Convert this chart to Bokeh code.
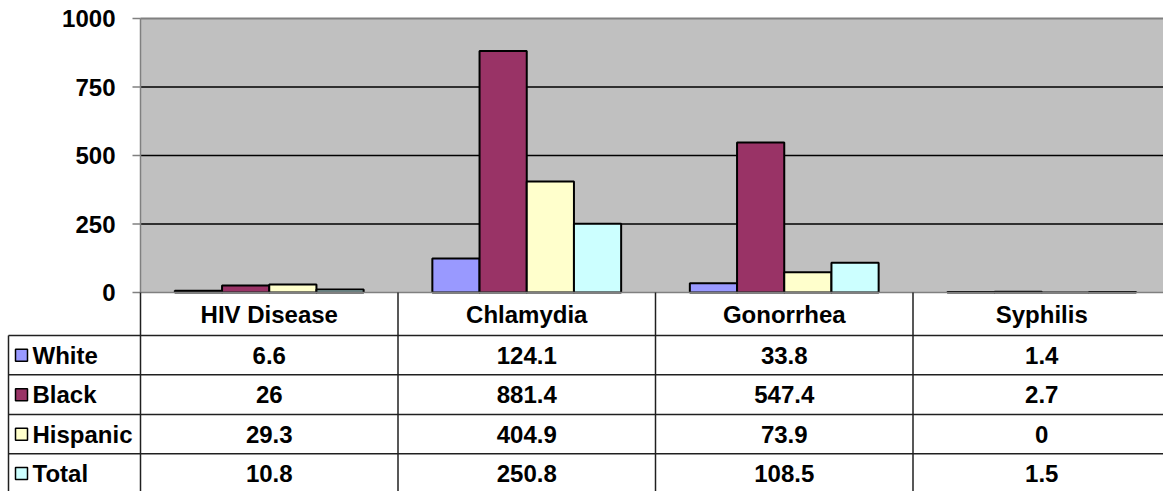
from bokeh.plotting import figure
from bokeh.models import Range1d
from bokeh.embed import file_html
from bokeh.resources import INLINE
from bokeh.core.properties import value

# ---------------- data ----------------
categories = ["HIV Disease", "Chlamydia", "Gonorrhea", "Syphilis"]
series = ["White", "Black", "Hispanic", "Total"]
white = [6.6, 124.1, 33.8, 1.4]
black = [26, 881.4, 547.4, 2.7]
hispanic = [29.3, 404.9, 73.9, 0]
total = [10.8, 250.8, 108.5, 1.5]
y_ticks = [0, 250, 500, 750, 1000]

colors = ["#9999FF", "#993366", "#FFFFCC", "#CCFFFF"]
values = [white, black, hispanic, total]

# ---------------- layout (page pixels) ----------------
W, H = 1163, 491
OFF = 0
plot_left = 140 - OFF        # left edge of plot area in figure px
cat_px = 257.5               # width of one category in px
y0_px = 292 - OFF            # y of value 0 in figure px (from top)
px_per_unit = 0.274          # px per value unit

xs = -plot_left / cat_px
xe = (W - plot_left) / cat_px
ys = -(H - y0_px) / px_per_unit
ye = y0_px / px_per_unit

FONT = value("Liberation Sans")

p = figure(width=W, height=H, output_backend="svg", toolbar_location=None,
           x_range=Range1d(xs, xe), y_range=Range1d(ys, ye),
           min_border=0, min_border_left=0, min_border_right=0,
           min_border_top=0, min_border_bottom=0)
p.axis.visible = False
p.grid.visible = False
p.outline_line_color = None
p.background_fill_color = "white"
p.border_fill_color = "white"
p.extra_x_ranges = {"px": Range1d(0, W)}
p.extra_y_ranges = {"py": Range1d(H, 0)}

ncat = len(categories)
ymax = y_ticks[-1]

# plot area background
p.quad(left=[0], right=[ncat], bottom=[0], top=[ymax],
       fill_color="#C0C0C0", line_color=None)

# gridlines
for t in y_ticks[1:-1]:
    p.segment(x0=[0], y0=[t], x1=[ncat], y1=[t], line_color="black", line_width=1.3)
p.segment(x0=[0], y0=[ymax], x1=[ncat], y1=[ymax], line_color="#808080", line_width=2)

# bars
bw = 47.2 / cat_px
for k, (vals, col) in enumerate(zip(values, colors)):
    xc = [i + 0.5 + (k - 1.5) * bw for i in range(ncat)]
    p.vbar(x=xc, top=vals, bottom=0, width=bw, fill_color=col,
           line_color="black", line_width=2)

# axis lines
p.segment(x0=[0], y0=[0], x1=[ncat], y1=[0], line_color="#808080", line_width=1.5)
p.segment(x0=[0], y0=[0], x1=[0], y1=[ymax], line_color="#808080", line_width=1.5)
# tick marks
tk = 8 / cat_px
p.segment(x0=[-tk] * len(y_ticks), y0=y_ticks, x1=[0] * len(y_ticks), y1=y_ticks,
          line_color="#808080", line_width=1.5)
# y tick labels
p.text(x=[115 - OFF] * len(y_ticks), y=y_ticks, text=[str(t) for t in y_ticks],
       x_range_name="px", text_font=FONT, text_font_style="bold",
       text_font_size="24px", text_align="right", text_baseline="middle",
       text_color="black")

# ---------------- data table ----------------
row_edges = [292 - OFF, 335 - OFF, 374.3 - OFF, 414 - OFF, 453.3 - OFF, 492.6 - OFF]
tbl_line = "#202020"
# horizontal lines (rows below the header)
for yy in row_edges[1:-1]:
    p.segment(x0=[8 - OFF], y0=[yy], x1=[W], y1=[yy], x_range_name="px",
              y_range_name="py", line_color=tbl_line, line_width=1.5)
# vertical lines: left border of row labels
p.segment(x0=[8 - OFF], y0=[row_edges[1]], x1=[8 - OFF], y1=[H], x_range_name="px",
          y_range_name="py", line_color=tbl_line, line_width=1.5)
# column separators (category boundaries)
for c in range(ncat + 1):
    p.segment(x0=[c], y0=[row_edges[0]], x1=[c], y1=[H], y_range_name="py",
              line_color=tbl_line, line_width=1.5)

# header
hdr_y = (row_edges[0] + row_edges[1]) / 2
p.text(x=[i + 0.5 for i in range(ncat)], y=[hdr_y] * ncat, text=categories,
       y_range_name="py", text_font=FONT, text_font_style="bold",
       text_font_size="24px", text_align="center", text_baseline="middle",
       text_color="black")

def fmt(v):
    return f"{v:g}"

for r, (name, vals, col) in enumerate(zip(series, values, colors)):
    cy = (row_edges[r + 1] + row_edges[r + 2]) / 2
    # legend key
    p.rect(x=[21 - OFF], y=[cy], width=12, height=12, x_range_name="px",
           y_range_name="py", fill_color=col, line_color="black", line_width=1.5)
    p.text(x=[32 - OFF], y=[cy], text=[name], x_range_name="px", y_range_name="py",
           text_font=FONT, text_font_style="bold", text_font_size="24px",
           text_align="left", text_baseline="middle", text_color="black")
    p.text(x=[i + 0.5 for i in range(ncat)], y=[cy] * ncat,
           text=[fmt(v) for v in vals], y_range_name="py",
           text_font=FONT, text_font_style="bold", text_font_size="24px",
           text_align="center", text_baseline="middle", text_color="black")

open("out.html", "w").write(file_html(p, INLINE))
